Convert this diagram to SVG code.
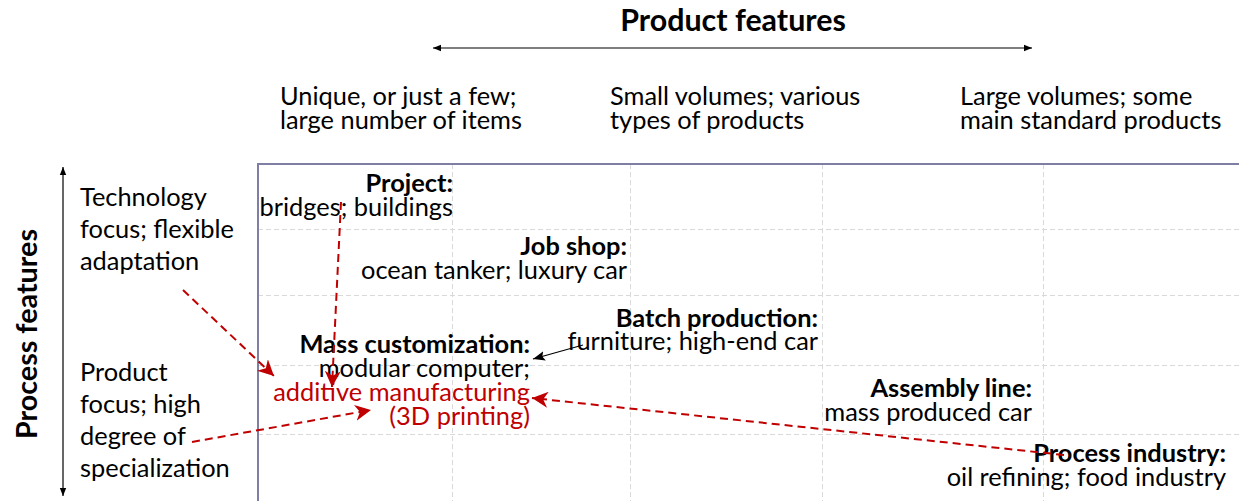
<svg xmlns="http://www.w3.org/2000/svg" width="1239" height="501" viewBox="0 0 1239 501">
<style>
text { font-family: Lato, "Liberation Sans", sans-serif; font-size: 25.4px; fill: #000; }
.b { font-weight: bold; }
.t { font-size: 30.4px; font-weight: bold; }
.tv { font-size: 28.7px; font-weight: bold; }
.r { text-anchor: end; }
.red { fill: #c00000; }
.grid { stroke: #d9d9d9; stroke-width: 1; stroke-dasharray: 5 3; fill: none; }
.frame { stroke: #7f7fa6; stroke-width: 2; fill: none; }
.ax { stroke: #000; stroke-width: 1.2; fill: none; }
.rd { stroke: #c00000; stroke-width: 2; stroke-dasharray: 8 5; fill: none; }
.bk { stroke: #000; stroke-width: 1.2; fill: none; }
</style>
<defs>
<marker id="ah" viewBox="0 0 10 10" refX="10" refY="5" markerWidth="8" markerHeight="8" orient="auto-start-reverse" markerUnits="userSpaceOnUse">
<path d="M0,1 L10,5 L0,9 Z" fill="#000"/>
</marker>
<marker id="rh" viewBox="0 0 10 10" refX="10" refY="5" markerWidth="16" markerHeight="16" orient="auto" markerUnits="userSpaceOnUse">
<path d="M0,0 L10,5 L0,10 L3,5 Z" fill="#c00000"/>
</marker>
<marker id="bh" viewBox="0 0 10 10" refX="10" refY="5" markerWidth="12" markerHeight="12" orient="auto" markerUnits="userSpaceOnUse">
<path d="M0,1 L10,5 L0,9 L2,5 Z" fill="#000"/>
</marker>
</defs>

<g id="grid">
<line class="grid" x1="452.5" y1="164" x2="452.5" y2="501"/>
<line class="grid" x1="630.5" y1="164" x2="630.5" y2="501"/>
<line class="grid" x1="822.5" y1="164" x2="822.5" y2="501"/>
<line class="grid" x1="1043.5" y1="164" x2="1043.5" y2="501"/>
<line class="grid" x1="258" y1="229.5" x2="1239" y2="229.5"/>
<line class="grid" x1="258" y1="295.5" x2="1239" y2="295.5"/>
<line class="grid" x1="258" y1="365.5" x2="1239" y2="365.5"/>
<line class="grid" x1="258" y1="434.5" x2="1239" y2="434.5"/>
<path class="frame" d="M258,501 V164 H1239"/>
</g>

<g id="axes">
<line class="ax" x1="433" y1="48" x2="1032" y2="48" marker-start="url(#ah)" marker-end="url(#ah)"/>
<line class="ax" x1="63" y1="167" x2="63" y2="496" marker-start="url(#ah)" marker-end="url(#ah)"/>
<text class="t" x="733" y="31" text-anchor="middle">Product features</text>
<text class="tv" transform="translate(37,334) rotate(-90)" text-anchor="middle">Process features</text>
</g>

<g id="col-headers">
<text x="280" y="105">Unique, or just a few;</text>
<text x="280" y="129">large number of items</text>
<text x="610" y="105">Small volumes; various</text>
<text x="610" y="129">types of products</text>
<text x="960" y="105">Large volumes; some</text>
<text x="960" y="129">main standard products</text>
</g>

<g id="row-headers">
<text x="80" y="206">Technology</text>
<text x="80" y="238">focus; flexible</text>
<text x="80" y="270">adaptation</text>
<text x="80" y="381">Product</text>
<text x="80" y="413">focus; high</text>
<text x="80" y="445">degree of</text>
<text x="80" y="477">specialization</text>
</g>

<g id="project">
<text class="b r" x="453" y="192">Project:</text>
<text class="r" x="453" y="216">bridges; buildings</text>
</g>
<g id="job-shop">
<text class="b r" x="627" y="255">Job shop:</text>
<text class="r" x="627" y="279">ocean tanker; luxury car</text>
</g>
<g id="batch-production">
<text class="b r" x="818" y="327">Batch production:</text>
<text class="r" x="818" y="350">furniture; high-end car</text>
</g>
<g id="mass-customization">
<text class="b r" x="530" y="353">Mass customization:</text>
<text class="r" x="530" y="377">modular computer;</text>
<text class="r red" x="530" y="401">additive manufacturing</text>
<text class="r red" x="530" y="425">(3D printing)</text>
</g>
<g id="assembly-line">
<text class="b r" x="1032" y="397">Assembly line:</text>
<text class="r" x="1032" y="421">mass produced car</text>
</g>
<g id="process-industry">
<text class="b r" x="1226" y="462">Process industry:</text>
<text class="r" x="1226" y="486">oil refining; food industry</text>
</g>

<g id="connectors">
<line class="bk" x1="583" y1="345" x2="533" y2="359" marker-end="url(#bh)"/>
<line class="rd" x1="341" y1="202" x2="332" y2="387" marker-end="url(#rh)"/>
<line class="rd" x1="183" y1="290" x2="274" y2="376" marker-end="url(#rh)"/>
<line class="rd" x1="192" y1="442" x2="371" y2="410" marker-end="url(#rh)"/>
<line class="rd" x1="1064" y1="455" x2="532" y2="398" marker-end="url(#rh)"/>
</g>
</svg>
